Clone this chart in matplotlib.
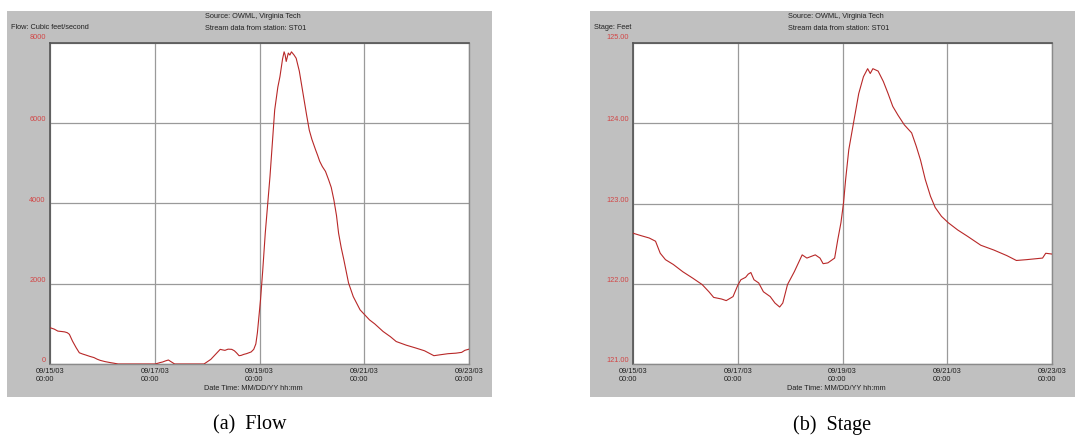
import matplotlib
matplotlib.use("Agg")
import matplotlib.pyplot as plt
from matplotlib.patches import Rectangle
import matplotlib.transforms as mtransforms

# ---------------- data ----------------
x_ticks = [0, 2, 4, 6, 8]
x_ticklabels = ["09/15/03\n00:00", "09/17/03\n00:00", "09/19/03\n00:00",
                "09/21/03\n00:00", "09/23/03\n00:00"]

flow_days = [0.0, 0.08, 0.15, 0.22, 0.28, 0.33, 0.37, 0.43, 0.5, 0.56, 0.62, 0.68, 0.76,
             0.84, 0.9, 0.96, 1.05, 1.15, 1.22, 1.3, 1.6, 1.9, 2.01, 2.1, 2.15, 2.2, 2.26,
             2.32, 2.38, 2.6, 2.94, 3.07, 3.16, 3.25, 3.3, 3.34, 3.4, 3.47, 3.52, 3.56,
             3.61, 3.65, 3.7, 3.75, 3.84, 3.89, 3.93, 3.96, 4.02, 4.06, 4.11, 4.2, 4.29,
             4.35, 4.39, 4.44, 4.47, 4.49, 4.51, 4.55, 4.58, 4.61, 4.66, 4.7, 4.76, 4.83,
             4.9, 4.95, 5.0, 5.07, 5.11, 5.15, 5.2, 5.26, 5.32, 5.37, 5.42, 5.47, 5.51,
             5.56, 5.61, 5.7, 5.79, 5.92, 6.1, 6.2, 6.36, 6.5, 6.61, 6.8, 6.98, 7.15,
             7.33, 7.45, 7.6, 7.75, 7.86, 7.92, 8.0]
flow_vals = [905, 870, 820, 810, 800, 780, 740, 570, 405, 280, 250, 225, 190,
             160, 120, 90, 60, 35, 20, 0, 0, 0, 0, 35, 50, 75, 100,
             50, 0, 0, 0, 115, 240, 365, 350, 340, 370, 365, 330, 280,
             207, 215, 240, 257, 300, 365, 500, 780, 1610, 2300, 3260, 4670, 6330,
             6900, 7160, 7600, 7780, 7700, 7540, 7750, 7700, 7780, 7700, 7620, 7300, 6750,
             6200, 5830, 5600, 5340, 5200, 5050, 4920, 4800, 4590, 4400, 4090, 3700, 3260,
             2900, 2600, 2020, 1680, 1350, 1100, 1000, 810, 680, 560, 470, 400, 330,
             207, 230, 257, 270, 290, 340, 370]

stage_days = [0.0, 0.15, 0.31, 0.43, 0.52, 0.62, 0.77, 0.95, 1.14, 1.32, 1.45, 1.54, 1.69,
              1.78, 1.91, 2.0, 2.06, 2.15, 2.2, 2.25, 2.31, 2.4, 2.49, 2.62, 2.71, 2.8,
              2.86, 2.95, 3.08, 3.23, 3.32, 3.48, 3.57, 3.63, 3.72, 3.85, 3.91, 3.97,
              4.02, 4.06, 4.12, 4.22, 4.31, 4.4, 4.48, 4.53, 4.58, 4.68, 4.78, 4.87, 4.96,
              5.06, 5.18, 5.32, 5.41, 5.49, 5.58, 5.68, 5.77, 5.89, 6.02, 6.2, 6.39, 6.64,
              6.89, 7.14, 7.32, 7.51, 7.82, 7.88, 8.0]
stage_vals = [122.63, 122.60, 122.57, 122.53, 122.38, 122.30, 122.24, 122.15, 122.07,
              121.99, 121.90, 121.83, 121.81, 121.79, 121.84, 121.98, 122.05, 122.08,
              122.12, 122.14, 122.05, 122.01, 121.90, 121.84, 121.76, 121.71, 121.76,
              121.99, 122.15, 122.36, 122.32, 122.36, 122.32, 122.25, 122.26, 122.32,
              122.55, 122.76, 123.01, 123.30, 123.67, 124.04, 124.37, 124.58, 124.68,
              124.62, 124.68, 124.65, 124.52, 124.37, 124.21, 124.10, 123.98, 123.88,
              123.71, 123.54, 123.30, 123.09, 122.95, 122.84, 122.76, 122.67, 122.59,
              122.48, 122.42, 122.35, 122.29, 122.30, 122.32, 122.38, 122.37]

flow_yticks = [0, 2000, 4000, 6000, 8000]
flow_yticklabels = ["0", "2000", "4000", "6000", "8000"]
stage_yticks = [121, 122, 123, 124, 125]
stage_yticklabels = ["121.00", "122.00", "123.00", "124.00", "125.00"]

flow_ylabel = "Flow: Cubic feet/second"
stage_ylabel = "Stage: Feet"
source_text = "Source: OWML, Virginia Tech"
station_text = "Stream data from station: ST01"
xlabel_text = "Date Time: MM/DD/YY hh:mm"
captions = ["(a)  Flow", "(b)  Stage"]

# ---------------- figure ----------------
W, H = 1078, 436
fig = plt.figure(figsize=(W / 100, H / 100), dpi=100)
fig.patch.set_facecolor("white")

FONT = "Liberation Sans"
FS = 5.3
TXT = "#222222"
RED = "#d24646"
LINE = "#b82828"
GRAY_BG = "#c0c0c0"


def fx(x):
    return x / W


def fy(y):
    return 1 - y / H


panels = [
    dict(gx=7, days=flow_days, vals=flow_vals, yt=flow_yticks, ytl=flow_yticklabels,
         ylim=(0, 8000), ylab=flow_ylabel, cap=captions[0]),
    dict(gx=590, days=stage_days, vals=stage_vals, yt=stage_yticks, ytl=stage_yticklabels,
         ylim=(121, 125), ylab=stage_ylabel, cap=captions[1]),
]

for p in panels:
    gx = p["gx"]
    gw = 485
    # gray panel
    fig.add_artist(Rectangle((fx(gx), fy(397)), fx(gw), (397 - 11) / H,
                             transform=fig.transFigure, facecolor=GRAY_BG,
                             edgecolor="none", zorder=0))
    left, right, top, bottom = gx + 43, gx + 462, 43, 364
    ax = fig.add_axes([fx(left), fy(bottom), (right - left) / W, (bottom - top) / H])
    ax.set_facecolor("white")
    ax.set_xlim(0, 8)
    ax.set_ylim(*p["ylim"])
    ax.plot(p["days"], p["vals"], color=LINE, lw=0.8, zorder=3)
    ax.set_xticks(x_ticks)
    ax.set_xticklabels(x_ticklabels, fontsize=FS, family=FONT, color=TXT,
                       linespacing=1.1)
    for lbl in ax.get_xticklabels():
        lbl.set_multialignment("left")
    ax.tick_params(axis="x", length=0, pad=3)
    ax.set_yticks(p["yt"])
    ax.set_yticklabels([])
    ax.tick_params(axis="y", length=0)
    ax.grid(True, color="#9a9a9a", lw=0.9, zorder=1)
    for side in ["top", "left"]:
        ax.spines[side].set_color("#555555")
        ax.spines[side].set_linewidth(1.2)
    for side in ["bottom", "right"]:
        ax.spines[side].set_color("#8a8a8a")
        ax.spines[side].set_linewidth(1.0)
    # y tick labels (red)
    trans = mtransforms.blended_transform_factory(ax.transAxes, ax.transData)
    for i, (v, s) in enumerate(zip(p["yt"], p["ytl"])):
        dy = 4.3 if i == len(p["yt"]) - 1 else 2.5
        off = mtransforms.offset_copy(trans, fig=fig, x=-3, y=dy, units="points")
        ax.text(0, v, s, transform=off, ha="right", va="center", fontsize=FS,
                family=FONT, color=RED, clip_on=False)
    # header texts
    fig.text(fx(gx + 4), fy(27.5), p["ylab"], fontsize=FS, family=FONT, color=TXT,
             ha="left", va="center")
    fig.text(fx(gx + 198), fy(16), source_text, fontsize=FS, family=FONT, color=TXT,
             ha="left", va="center")
    fig.text(fx(gx + 198), fy(29), station_text, fontsize=FS, family=FONT, color=TXT,
             ha="left", va="center")
    fig.text(fx(gx + 246), fy(388), xlabel_text, fontsize=FS, family=FONT, color=TXT,
             ha="center", va="center")
    fig.text(fx(gx + gw / 2), fy(425), p["cap"], fontsize=14.5, family="Liberation Serif",
             color="black", ha="center", va="center")

fig.savefig("out.png", dpi=100, facecolor="white")
